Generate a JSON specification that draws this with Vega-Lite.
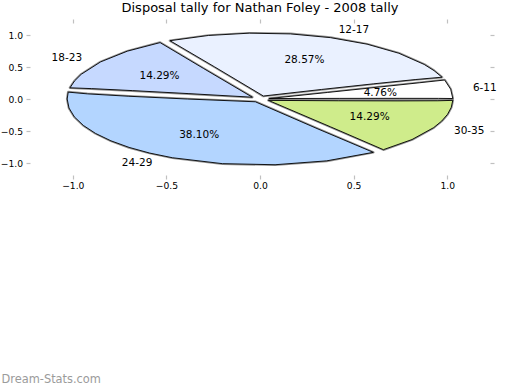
{
  "$schema": "https://vega.github.io/schema/vega-lite/v6.json",
  "width": 468,
  "height": 160,
  "autosize": {"type": "none"},
  "padding": {"left": 26, "top": 19, "right": 26, "bottom": 211},
  "title": {
    "text": "Disposal tally for Nathan Foley - 2008 tally",
    "font": "DejaVu Sans",
    "fontSize": 13,
    "fontWeight": "normal",
    "color": "#000000",
    "baseline": "alphabetic",
    "offset": -6.5
  },
  "data": {
    "values": [
      {"group": "6-11", "count": 1},
      {"group": "12-17", "count": 6},
      {"group": "18-23", "count": 3},
      {"group": "24-29", "count": 8},
      {"group": "30-35", "count": 3}
    ]
  },
  "transform": [
    {"joinaggregate": [{"op": "sum", "field": "count", "as": "total"}]},
    {"window": [{"op": "sum", "field": "count", "as": "cum"}]},
    {"calculate": "datum.count/datum.total", "as": "frac"},
    {"calculate": "2*PI*(datum.cum-datum.count)/datum.total", "as": "s"},
    {"calculate": "2*PI*datum.cum/datum.total", "as": "e"},
    {"calculate": "(datum.s+datum.e)/2", "as": "m"},
    {"calculate": "0.05*sin((datum.e-datum.s)/2)/1.03", "as": "ins"},
    {"calculate": "datum.s+datum.ins", "as": "s2"},
    {"calculate": "datum.e-datum.ins", "as": "e2"},
    {"calculate": "0.05*cos(datum.m)/1.03", "as": "cx0"},
    {"calculate": "0.3419*0.05*sin(datum.m)/1.03", "as": "cy0"},
    {"calculate": "atan2(datum.cx0, sqrt(1-datum.cx0*datum.cx0-datum.cy0*datum.cy0))*180/PI", "as": "clon"},
    {"calculate": "asin(datum.cy0)*180/PI", "as": "clat"},
    {"calculate": "atan2(cos(datum.s2), 0.9397*abs(sin(datum.s2)))*180/PI", "as": "slon"},
    {"calculate": "asin(0.3419*sin(datum.s2))*180/PI", "as": "slat"},
    {"calculate": "atan2(cos(datum.e2), 0.9397*abs(sin(datum.e2)))*180/PI", "as": "elon"},
    {"calculate": "asin(0.3419*sin(datum.e2))*180/PI", "as": "elat"},
    {"calculate": "{'type': 'Feature', 'properties': {}, 'geometry': {'type': 'Polygon', 'coordinates': [(datum.s2 < PI && datum.e2 > PI) ? [[datum.clon, datum.clat], [datum.elon, datum.elat], [-90, 0], [datum.slon, datum.slat], [datum.clon, datum.clat]] : [[datum.clon, datum.clat], [datum.elon, datum.elat], [datum.slon, datum.slat], [datum.clon, datum.clat]]]}}", "as": "geo"},
    {"calculate": "1.15*cos(datum.m)", "as": "lx"},
    {"calculate": "1.15*sin(datum.m)", "as": "ly"},
    {"calculate": "0.65*cos(datum.m)", "as": "qx"},
    {"calculate": "0.65*sin(datum.m)", "as": "qy"}
  ],
  "layer": [
    {
      "mark": {"type": "geoshape", "fill": "#707070", "stroke": "#707070", "strokeWidth": 2.6, "strokeJoin": "round", "opacity": 0.75},
      "projection": {"type": "orthographic", "scale": {"expr": "width/2.5*1.03"}, "translate": {"expr": "[width/2, height/2]"}},
      "encoding": {"shape": {"field": "geo", "type": "geojson"}}
    },
    {
      "mark": {"type": "geoshape", "stroke": "#000000", "strokeWidth": 0.9, "strokeJoin": "round"},
      "projection": {"type": "orthographic", "scale": {"expr": "width/2.5*1.03"}, "translate": {"expr": "[width/2, height/2]"}},
      "encoding": {
        "shape": {"field": "geo", "type": "geojson"},
        "color": {
          "field": "group",
          "type": "nominal",
          "scale": {"domain": ["6-11", "12-17", "18-23", "24-29", "30-35"], "range": ["#ffffff", "#eaf1ff", "#c6d9ff", "#b3d5ff", "#cfec8b"]},
          "legend": null
        }
      }
    },
    {
      "transform": [{"filter": "datum.lx < 0"}],
      "mark": {"type": "text", "align": "right", "baseline": "middle", "font": "DejaVu Sans", "fontSize": 10.5, "color": "#000000"},
      "encoding": {
        "x": {
          "field": "lx", "type": "quantitative",
          "scale": {"domain": [-1.25, 1.25], "nice": false, "zero": false},
          "axis": {
            "orient": "bottom", "values": [-1, -0.5, 0, 0.5, 1], "format": ".1f",
            "offset": -4, "tickSize": 4, "tickColor": "#c0c0c0", "tickWidth": 1.2,
            "domain": false, "grid": false,
            "labelFont": "DejaVu Sans", "labelFontSize": 9.2, "labelColor": "#000000", "labelPadding": 2,
            "title": "Dream-Stats.com", "titleFont": "DejaVu Sans", "titleFontSize": 11.4, "titleFontWeight": "normal",
            "titleColor": "#9b9b9b", "titleAlign": "left", "titleBaseline": "alphabetic", "titleX": -25, "titleY": 207
          }
        },
        "y": {
          "field": "ly", "type": "quantitative",
          "scale": {"domain": [-1.25, 1.25], "nice": false, "zero": false},
          "axis": {
            "orient": "left", "values": [-1, -0.5, 0, 0.5, 1], "format": ".1f",
            "offset": -4, "tickSize": 4, "tickColor": "#c0c0c0", "tickWidth": 1.2,
            "domain": false, "grid": false,
            "labelFont": "DejaVu Sans", "labelFontSize": 9.2, "labelColor": "#000000", "labelPadding": 3.5,
            "title": null
          }
        },
        "text": {"field": "group"}
      }
    },
    {
      "transform": [{"filter": "datum.lx >= 0"}],
      "mark": {"type": "text", "align": "left", "baseline": "middle", "font": "DejaVu Sans", "fontSize": 10.5, "color": "#000000"},
      "encoding": {
        "x": {
          "field": "lx", "type": "quantitative",
          "scale": {"domain": [-1.25, 1.25], "nice": false, "zero": false},
          "axis": {
            "orient": "top", "values": [-1, -0.5, 0, 0.5, 1], "labels": false,
            "offset": -4, "tickSize": 4, "tickColor": "#c0c0c0", "tickWidth": 1.2,
            "domain": false, "grid": false, "title": null
          }
        },
        "y": {
          "field": "ly", "type": "quantitative",
          "scale": {"domain": [-1.25, 1.25], "nice": false, "zero": false},
          "axis": {
            "orient": "right", "values": [-1, -0.5, 0, 0.5, 1], "labels": false,
            "offset": -4, "tickSize": 4, "tickColor": "#c0c0c0", "tickWidth": 1.2,
            "domain": false, "grid": false, "title": null
          }
        },
        "text": {"field": "group"}
      }
    },
    {
      "mark": {"type": "text", "align": "center", "baseline": "middle", "font": "DejaVu Sans", "fontSize": 10.5, "color": "#000000"},
      "encoding": {
        "x": {"field": "qx", "type": "quantitative", "scale": {"domain": [-1.25, 1.25], "nice": false, "zero": false}, "axis": null},
        "y": {"field": "qy", "type": "quantitative", "scale": {"domain": [-1.25, 1.25], "nice": false, "zero": false}, "axis": null},
        "text": {"field": "frac", "type": "quantitative", "format": ".2%"}
      }
    }
  ],
  "resolve": {"axis": {"x": "independent", "y": "independent"}},
  "config": {"view": {"stroke": null}, "font": "DejaVu Sans"}
}
